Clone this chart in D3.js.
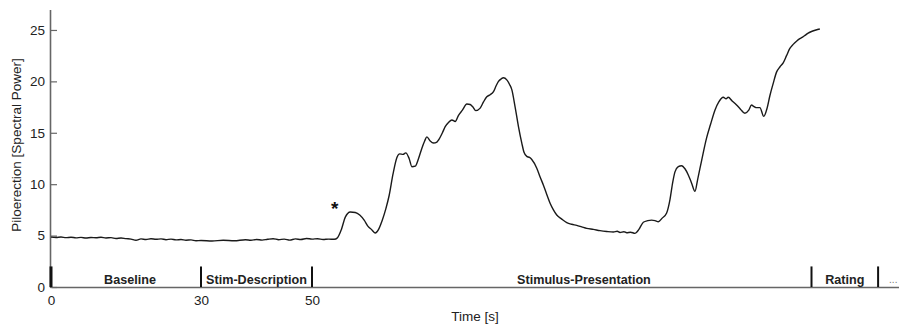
<!DOCTYPE html>
<html>
<head>
<meta charset="utf-8">
<script src="https://cdn.jsdelivr.net/npm/d3@7"></script>
<style>
    body { margin: 0; background: #fff; }
    svg { display: block; font-family: "Liberation Sans", Arial, sans-serif; }
</style>
</head>
<body>
<div id="root"></div>
<script>
// time [s] and piloerection values
const time = [
    0, 1, 2, 3, 4, 5, 6, 7, 8, 9, 10, 11, 12, 13, 14, 15, 16, 17, 18, 19,
    20, 21, 22, 23, 24, 25, 26, 27, 28, 29, 30, 32, 34, 36, 38, 39, 40, 41, 42, 43,
    44, 45, 46, 47, 48, 49, 50, 51, 52, 53, 54, 54.6, 55.3, 56.0, 56.9, 57.8, 58.6, 59.4, 60.1, 60.8,
    61.4, 62.0, 62.6, 63.3, 63.9, 64.6, 65.3, 65.8, 66.4, 66.9, 67.5, 68.0, 68.6, 69.2, 69.8, 70.3, 70.7, 71.3, 71.9, 72.5,
    72.8, 73.5, 74.0, 74.6, 75.2, 75.8, 76.4, 77.1, 77.9, 78.5, 79.0, 79.5, 80.3, 80.9, 81.5, 82.1, 82.7, 83.2, 83.6, 84.1,
    84.5, 85.1, 85.6, 86.0, 86.6, 87.2, 87.8, 88.2, 88.7, 89.2, 89.6, 90.5, 91.1, 91.7, 92.3, 92.9, 93.5, 94.1, 95.0, 95.9,
    96.8, 97.7, 98.6, 99.5, 100.7, 101.9, 103.1, 104.3, 105.0, 105.5, 106.2, 106.7, 107.4, 108.2, 108.9, 109.7, 110.5, 111.2, 111.8, 112.4,
    113.1, 113.9, 114.5, 115.0, 115.4, 116.0, 116.6, 117.2, 117.8, 118.4, 119.0, 119.5, 120.2, 121.1, 121.8, 122.6, 123.3, 124.1, 124.6, 125.0,
    125.7, 126.5, 127.2, 128.0, 128.7, 129.2, 129.5, 130.0, 130.7, 131.4, 132.0, 132.5, 133.1, 133.7, 134.3, 134.9, 135.5, 136.1, 136.7, 137.3,
    137.9, 138.4, 138.9, 139.4, 140.0, 140.8, 141.5
];
const power = [
    4.85, 4.82, 4.86, 4.80, 4.84, 4.78, 4.83, 4.76, 4.81, 4.79, 4.84, 4.77, 4.80, 4.72, 4.76, 4.70, 4.66, 4.55, 4.68, 4.62,
    4.70, 4.64, 4.68, 4.60, 4.66, 4.58, 4.62, 4.55, 4.58, 4.50, 4.52, 4.48, 4.55, 4.50, 4.60, 4.54, 4.62, 4.56, 4.64, 4.70,
    4.60, 4.66, 4.56, 4.68, 4.62, 4.72, 4.66, 4.70, 4.62, 4.66, 4.64, 4.80, 5.6, 6.8, 7.3, 7.25, 7.0, 6.5, 5.9, 5.55,
    5.25, 5.6, 6.4, 7.6, 8.9, 11.0, 12.6, 12.95, 12.9, 13.05, 12.5, 11.7, 11.75, 12.5, 13.5, 14.2, 14.6, 14.2, 14.0, 14.1,
    14.3, 15.0, 15.6, 16.0, 16.25, 16.1, 16.7, 17.2, 17.8, 17.75, 17.5, 17.15, 17.4, 18.0, 18.5, 18.7, 19.0, 19.6, 20.0, 20.25,
    20.35, 20.15, 19.7, 19.2, 17.5, 15.6, 14.0, 13.1, 12.7, 12.6, 12.4, 11.55, 10.7, 9.9, 9.0, 8.15, 7.5, 7.0, 6.6, 6.26,
    6.1, 6.0, 5.85, 5.7, 5.6, 5.48, 5.4, 5.35, 5.42, 5.3, 5.38, 5.28, 5.33, 5.22, 5.6, 6.3, 6.45, 6.5, 6.45, 6.35,
    6.7, 7.2, 8.5, 10.2, 11.2, 11.7, 11.8, 11.5, 10.9, 10.1, 9.3, 10.5, 12.3, 14.5, 15.8, 17.2, 18.0, 18.45, 18.3, 18.45,
    18.1, 17.7, 17.3, 16.9, 17.2, 17.7, 17.6, 17.45, 17.45, 16.6, 17.4, 18.6, 19.8, 20.9, 21.4, 21.8, 22.5, 23.2, 23.6, 23.9,
    24.15, 24.3, 24.5, 24.7, 24.85, 25.0, 25.1
];

const phaseNames = ['Baseline', 'Stim-Description', 'Stimulus-Presentation', 'Rating'];
const phaseStart = [0, 30, 50, 140];
const phaseEnd = [30, 50, 140, 152];
const phaseLabelAt = [15.8, 40, 99, 146];

const xTicks = [0, 30, 50];
const yTicks = [0, 5, 10, 15, 20, 25];
const markerTime = 54.1;
const markerValue = 8.0;

const width = 899;
const height = 325;

const svg = d3.select('#root').append('svg').
    attr('width', width).
    attr('height', height);

// the figure's time axis is stretched differently before and after 30 s
const x = d3.scaleLinear().
    domain([0, 30, 160]).
    range([51, 201, 922.5]);

const y = d3.scaleLinear().
    domain([0, 27]).
    range([287, 9.4]);

const data = time.map((t, i) => ({ t: t, v: power[i] }));

// y axis
const yAxis = svg.append('g').
    attr('transform', 'translate(50, 0)').
    call(d3.axisLeft(y).tickValues(yTicks).tickSize(0).tickPadding(5));
yAxis.select('.domain').attr('stroke', '#666').attr('stroke-width', 1.6);
yAxis.selectAll('.tick text').attr('font-size', 13.5).attr('fill', '#222');
yAxis.selectAll('.tick').append('line').
    attr('x1', 0).attr('x2', 7).
    attr('stroke', '#666').attr('stroke-width', 1.2);

// x axis
const xAxis = svg.append('g').
    attr('transform', 'translate(0, 287)').
    call(d3.axisBottom(x).tickValues(xTicks).tickSize(0).tickPadding(8).tickFormat(d3.format('d')));
xAxis.select('.domain').attr('stroke', '#666').attr('stroke-width', 1.6);
xAxis.selectAll('.tick text').attr('font-size', 13.5).attr('fill', '#222');

// phase markers
const phases = phaseNames.map((n, i) => ({ name: n, start: phaseStart[i], end: phaseEnd[i], at: phaseLabelAt[i] }));
const bounds = phaseStart.concat([phaseEnd[phaseEnd.length - 1]]);

svg.selectAll('line.phase').data(bounds).enter().append('line').
    attr('class', 'phase').
    attr('x1', d => x(d)).attr('x2', d => x(d)).
    attr('y1', y(2)).attr('y2', y(0)).
    attr('stroke', '#111').
    attr('stroke-width', (d, i) => i === 0 ? 3 : 2);

svg.selectAll('text.phase').data(phases).enter().append('text').
    attr('class', 'phase').
    attr('x', d => x(d.at)).
    attr('y', 283.5).
    attr('text-anchor', 'middle').
    attr('font-size', 12.6).
    attr('font-weight', 'bold').
    attr('fill', '#222').
    text(d => d.name);

svg.append('text').
    attr('x', x(phaseEnd[3]) + 11).
    attr('y', 283).
    attr('font-size', 10).
    attr('fill', '#777').
    text('...');

// signal
const line = d3.line().
    x(d => x(d.t)).
    y(d => y(d.v)).
    curve(d3.curveMonotoneX);

svg.append('path').
    datum(data).
    attr('fill', 'none').
    attr('stroke', '#1a1a1a').
    attr('stroke-width', 1.4).
    attr('stroke-linejoin', 'round').
    attr('d', line);

svg.append('text').
    attr('x', x(markerTime)).
    attr('y', y(markerValue) + 10).
    attr('text-anchor', 'middle').
    attr('font-size', 19).
    attr('font-weight', 'bold').
    attr('fill', '#111').
    text('*');

// axis titles
svg.append('text').
    attr('transform', 'translate(21, 145) rotate(-90)').
    attr('text-anchor', 'middle').
    attr('font-size', 13.5).
    attr('fill', '#222').
    text('Piloerection [Spectral Power]');

svg.append('text').
    attr('x', 475).
    attr('y', 321).
    attr('text-anchor', 'middle').
    attr('font-size', 13.5).
    attr('fill', '#222').
    text('Time [s]');
</script>
</body>
</html>
